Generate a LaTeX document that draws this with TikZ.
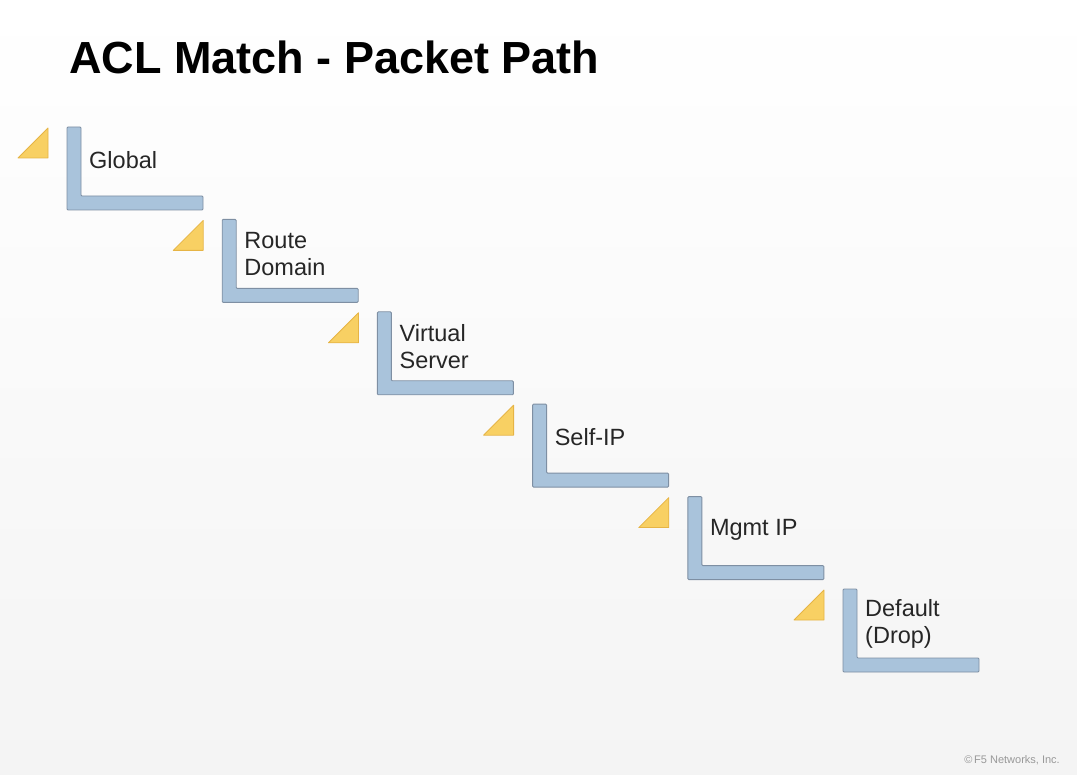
\documentclass[tikz,border=0pt]{standalone}
\usepackage{fontspec}
\setmainfont{Liberation Sans}
\usetikzlibrary{calc}
\definecolor{lfill}{HTML}{A9C3DB}
\definecolor{ldraw}{HTML}{7E8FA3}
\definecolor{tfill}{HTML}{F8D063}
\definecolor{tdraw}{HTML}{E6B445}
\definecolor{bgtop}{HTML}{FFFFFF}
\definecolor{bgbot}{HTML}{F4F4F4}
\begin{document}
\begin{tikzpicture}[x=1pt,y=-1pt,
  lshape/.style={fill=lfill,draw=ldraw,line width=0.9pt,rounded corners=1pt},
  tri/.style={fill=tfill,draw=tdraw,line width=0.8pt,line join=round},
  lbl/.style={anchor=west,align=left,font=\fontsize{23.5}{27}\selectfont,text=black!85,inner sep=0pt},
  title/.style={anchor=west,font=\fontsize{45}{50}\selectfont\bfseries,inner sep=0pt},
  copy/.style={anchor=east,font=\fontsize{11}{12}\selectfont,text=black!40,inner sep=0pt}]
\useasboundingbox (0,0) rectangle (1077,775);
\shade[top color=bgtop,bottom color=bgbot] (0,0) rectangle (1077,775);
\node[title] (title) at (69,57) {ACL Match - Packet Path};
\foreach \i/\txt/\dy in {0/Global/33,1/{Route\\Domain}/35,2/{Virtual\\Server}/35,3/Self-IP/33,4/Mgmt IP/33,5/{Default\\(Drop)}/35}{
  \pgfmathsetmacro{\X}{67+155.2*\i}
  \pgfmathsetmacro{\Y}{127+92.4*\i}
  \coordinate (c\i) at (\X,\Y);
  \draw[lshape] (c\i) -- ++(14,0) -- ++(0,69) -- ++(122,0) -- ++(0,14) -- ++(-136,0) -- cycle;
  \draw[tri] ($(c\i)+(-49,31)$) -- ++(30,-30) -- ++(0,30) -- cycle;
  \node[lbl] (l\i) at ($(c\i)+(22,\dy)$) {\txt};
}
\node[copy] (cp) at (1060,760) {\textcopyright\,F5 Networks, Inc.};
\end{tikzpicture}
\end{document}
